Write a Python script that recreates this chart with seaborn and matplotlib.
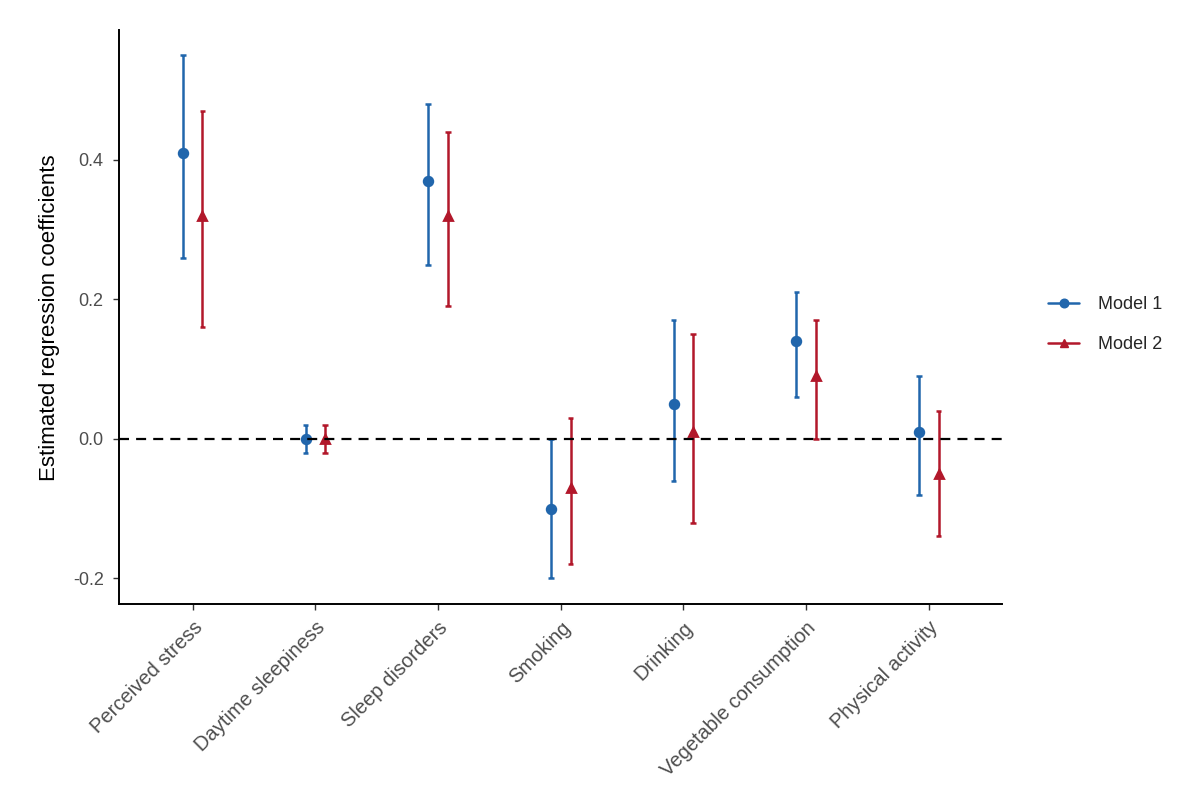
import pandas as pd
import matplotlib.pyplot as plt
from matplotlib.lines import Line2D
import seaborn as sns

# Categorias e coeficientes estimados
categorias = ['Perceived stress', 'Daytime sleepiness', 'Sleep disorders', 'Smoking',
              'Drinking', 'Vegetable consumption', 'Physical activity']
modelos = ['Model 1', 'Model 2']

m1_est = [0.41, 0.00, 0.37, -0.10, 0.05, 0.14, 0.01]
m1_low = [0.26, -0.02, 0.25, -0.20, -0.06, 0.06, -0.08]
m1_high = [0.55, 0.02, 0.48, 0.00, 0.17, 0.21, 0.09]

m2_est = [0.32, 0.00, 0.32, -0.07, 0.01, 0.09, -0.05]
m2_low = [0.16, -0.02, 0.19, -0.18, -0.12, 0.00, -0.14]
m2_high = [0.47, 0.02, 0.44, 0.03, 0.15, 0.17, 0.04]

cores = {'Model 1': '#2166AC', 'Model 2': '#B2182B'}
marcadores = {'Model 1': 'o', 'Model 2': '^'}

# Formato longo: cada categoria tem (low, est, high); mediana = estimativa, min/max = IC
linhas = []
for modelo, est, low, high in [('Model 1', m1_est, m1_low, m1_high),
                                ('Model 2', m2_est, m2_low, m2_high)]:
    for cat, e, l, h in zip(categorias, est, low, high):
        for v in (l, e, h):
            linhas.append({'Variavel': cat, 'Modelo': modelo, 'Coef': v})
df = pd.DataFrame(linhas)

sns.set_theme(style='white')
plt.rcParams['font.family'] = ['Liberation Sans', 'DejaVu Sans']

fig = plt.figure(figsize=(12.02, 7.98), dpi=100)
ax = fig.add_axes([0.099, 0.243, 0.735, 0.719])

sns.pointplot(data=df, x='Variavel', y='Coef', hue='Modelo', order=categorias,
              hue_order=modelos, palette=cores, estimator='median',
              errorbar=('pi', 100), dodge=0.16, linestyle='none',
              markers=[marcadores[m] for m in modelos], markersize=6.2, capsize=0.045,
              err_kws={'linewidth': 1.8, 'solid_capstyle': 'butt'}, legend=False, ax=ax)

# Linha de referência em zero
ax.axhline(0, color='black', linestyle=(0, (4.5, 3.2)), linewidth=1.6, zorder=5)

ax.set_xlim(-0.6, 6.6)
ax.set_ylim(-0.237, 0.586)
ax.set_yticks([-0.2, 0.0, 0.2, 0.4])
ax.set_yticklabels(['-0.2', '0.0', '0.2', '0.4'])
ax.set_xlabel('')
ax.set_ylabel('Estimated regression coefficients', fontsize=16, color='black', labelpad=9)

ax.tick_params(axis='both', which='both', direction='out', length=4, width=1,
               colors='#333333', labelcolor='#4D4D4D', bottom=True, left=True)
ax.tick_params(axis='y', labelsize=13, pad=7)
ax.tick_params(axis='x', labelsize=14.5, pad=6)
plt.setp(ax.get_xticklabels(), rotation=45, ha='right', rotation_mode='anchor')

sns.despine(ax=ax)
for lado in ['left', 'bottom']:
    ax.spines[lado].set_color('black')
    ax.spines[lado].set_linewidth(1.4)

handles = [Line2D([], [], color=cores[m], marker=marcadores[m], markersize=6.2,
                  linewidth=1.8) for m in modelos]
ax.legend(handles, modelos, title=None, frameon=False, loc='center left',
          bbox_to_anchor=(1.033, 0.487), fontsize=13, handlelength=1.75,
          labelspacing=1.3, handletextpad=1.0)

fig.savefig('out.png', dpi=100)
